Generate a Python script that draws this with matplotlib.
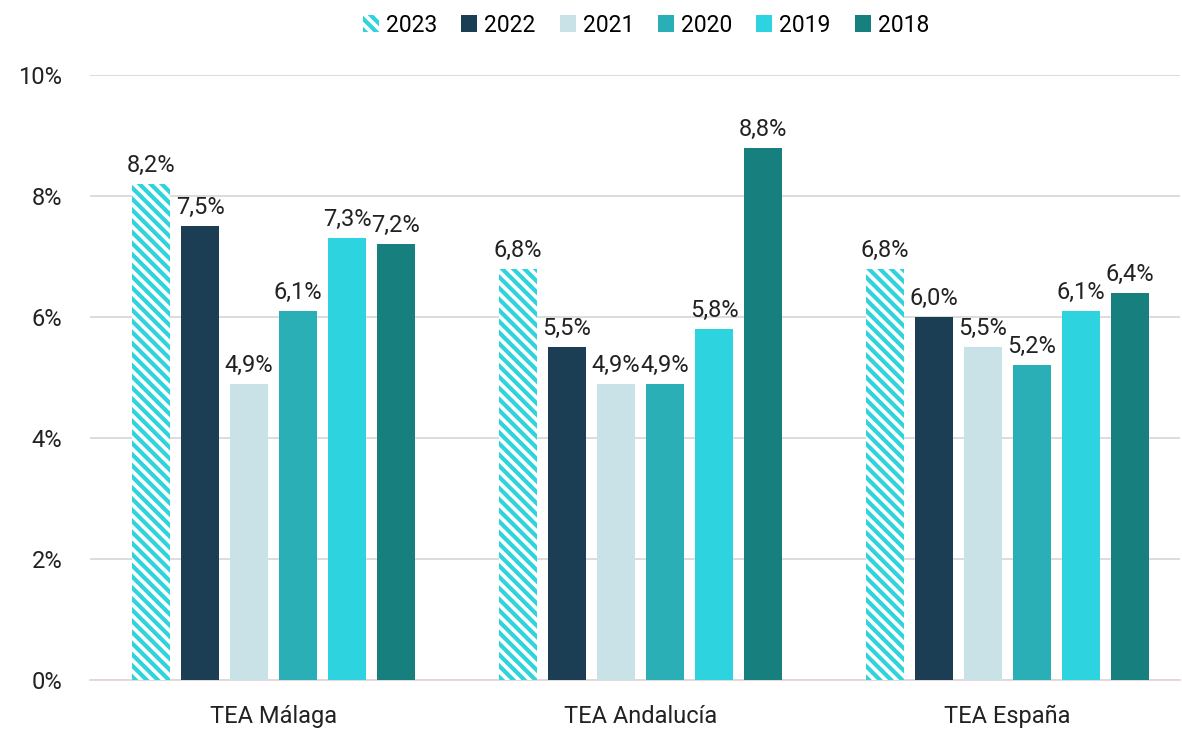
import matplotlib
matplotlib.use("Agg")
import matplotlib.pyplot as plt
import numpy as np

categories = ["TEA Málaga", "TEA Andalucía", "TEA España"]
years = ["2023", "2022", "2021", "2020", "2019", "2018"]
values = {
    "2023": [8.2, 6.8, 6.8],
    "2022": [7.5, 5.5, 6.0],
    "2021": [4.9, 4.9, 5.5],
    "2020": [6.1, 4.9, 5.2],
    "2019": [7.3, 5.8, 6.1],
    "2018": [7.2, 8.8, 6.4],
}
colors = {
    "2023": "#2FD3DC",
    "2022": "#1C3E55",
    "2021": "#C8E2E8",
    "2020": "#2AAFB7",
    "2019": "#2DD4E0",
    "2018": "#17807F",
}
yticks = [0, 2, 4, 6, 8, 10]

plt.rcParams['font.family'] = ['Roboto', 'DejaVu Sans']
plt.rcParams['hatch.linewidth'] = 3.0

fig = plt.figure(figsize=(11.82, 7.33), dpi=100)
ax = fig.add_axes([90/1182, 1-680/733, 1090/1182, (680-75)/733])

x = np.arange(len(categories))
width = 0.104
step = 0.1335
n = len(years)
handles = []
for i, yr in enumerate(years):
    pos = x + (i - (n-1)/2) * step
    if yr == "2023":
        bars = ax.bar(pos, values[yr], width, facecolor="white",
                      edgecolor=colors[yr], hatch="\\\\\\", linewidth=0,
                      label=yr, zorder=3)
    else:
        bars = ax.bar(pos, values[yr], width, color=colors[yr],
                      label=yr, zorder=3)
    handles.append(bars)
    for p, v in zip(pos, values[yr]):
        ax.annotate(f"{v:.1f}%".replace(".", ","), (p, v),
                    xytext=(0, 5), textcoords="offset points",
                    ha="center", va="bottom", fontsize=17, color="#222222")

ax.set_xlim(-0.5, 2.47)
ax.set_ylim(0, 10)
ax.set_yticks(yticks)
ax.set_yticklabels([f"{t}%" for t in yticks], fontsize=17, color="#222222")
ax.set_xticks(x)
ax.set_xticklabels(categories, fontsize=17, color="#222222")
ax.tick_params(axis="both", length=0)
ax.tick_params(axis="y", pad=20)
ax.tick_params(axis="x", pad=18)
ax.grid(axis="y", color="#D9D9D9", linewidth=1.3, zorder=0)
for s in ["top", "right", "left"]:
    ax.spines[s].set_visible(False)
ax.spines["bottom"].set_color("#E3D6D8")
ax.spines["bottom"].set_linewidth(1.3)

fig.legend(handles=handles, labels=years, loc="center", ncol=6,
           bbox_to_anchor=(646/1182, 1-25/733), frameon=False,
           fontsize=16.5, handlelength=0.7, handleheight=0.7,
           handletextpad=0.3, columnspacing=1.05)

fig.savefig("out.png", dpi=100, facecolor="white")
